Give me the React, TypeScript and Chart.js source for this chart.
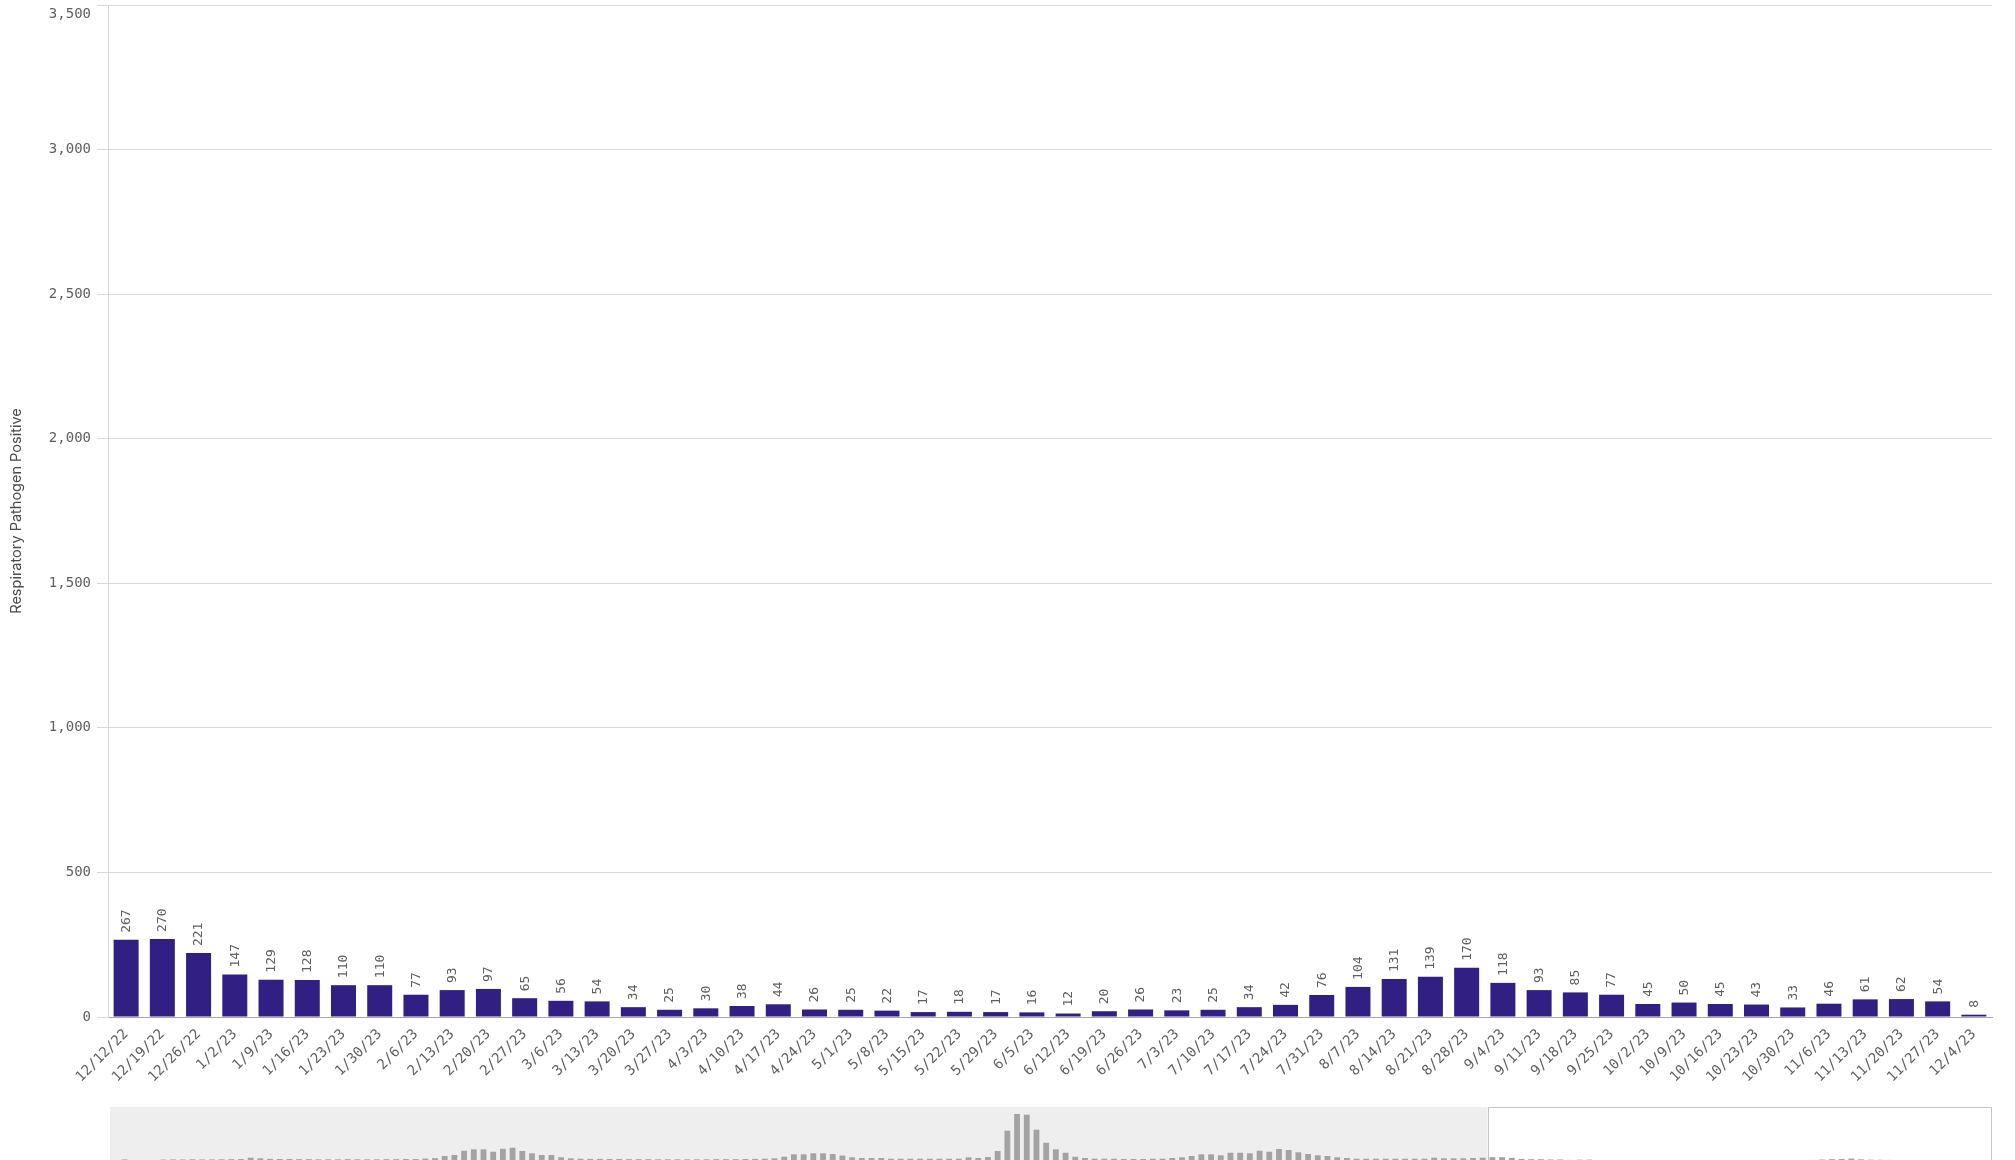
import React, { useEffect, useRef } from "react";
import { Chart, registerables } from "chart.js";

Chart.register(...registerables);

// ---- Data ----
const weekLabels = [
  "12/12/22", "12/19/22", "12/26/22", "1/2/23", "1/9/23", "1/16/23", "1/23/23", "1/30/23",
  "2/6/23", "2/13/23", "2/20/23", "2/27/23", "3/6/23", "3/13/23", "3/20/23", "3/27/23",
  "4/3/23", "4/10/23", "4/17/23", "4/24/23", "5/1/23", "5/8/23", "5/15/23", "5/22/23",
  "5/29/23", "6/5/23", "6/12/23", "6/19/23", "6/26/23", "7/3/23", "7/10/23", "7/17/23",
  "7/24/23", "7/31/23", "8/7/23", "8/14/23", "8/21/23", "8/28/23", "9/4/23", "9/11/23",
  "9/18/23", "9/25/23", "10/2/23", "10/9/23", "10/16/23", "10/23/23", "10/30/23", "11/6/23",
  "11/13/23", "11/20/23", "11/27/23", "12/4/23",
];

const weeklyPositive = [
  267, 270, 221, 147, 129, 128, 110, 110,
  77, 93, 97, 65, 56, 54, 34, 25,
  30, 38, 44, 26, 25, 22, 17, 18,
  17, 16, 12, 20, 26, 23, 25, 34,
  42, 76, 104, 131, 139, 170, 118, 93,
  85, 77, 45, 50, 45, 43, 33, 46,
  61, 62, 54, 8,
];

// Earlier weeks shown only in the overview strip
const historyValues = [
  30, 110, 40, 40, 50, 100, 110, 110, 120, 110, 110, 120, 130, 140, 230, 190,
  150, 140, 140, 130, 130, 120, 120, 120, 130, 120, 120, 120, 130, 130, 140, 140,
  170, 200, 350, 420, 720, 820, 820, 650, 860, 930, 700, 540, 420, 420, 260, 190,
  160, 150, 150, 140, 140, 130, 130, 130, 120, 120, 120, 120, 120, 120, 130, 130,
  130, 140, 150, 160, 190, 300, 470, 470, 540, 540, 490, 380, 260, 210, 210, 210,
  160, 160, 160, 160, 160, 160, 160, 160, 260, 210, 280, 700, 2130, 3300, 3250, 2200,
  1280, 820, 580, 300, 210, 160, 160, 160, 140, 140, 140, 160, 160, 210, 260, 350,
  470, 470, 400, 580, 580, 540, 720, 650, 840, 770, 610, 490, 400, 350, 260, 210,
  160, 160, 160, 160, 160, 160, 160, 160, 230, 190, 190, 190, 210, 230,
];

const yAxisTitle = "Respiratory Pathogen Positive";
const yMax = 3500;
const yStep = 500;

// ---- Layout ----
const W = 2015;
const MAIN_H = 1100;
const PLOT_LEFT = 108;
const PLOT_RIGHT = 1992;
const PLOT_TOP = 5;
const PLOT_BOTTOM = 1017;
const MINI_TOP = 1107;
const MINI_H = 54;
const MINI_LEFT = 110;

const MONO = '"DejaVu Sans Mono", "Liberation Mono", monospace';
const TEXT_GREY = "#5f5f5f";
const BAR_COLOR = "#311f83";

const fmt = (v: number) => Number(v).toLocaleString("en-US");

const valueLabelPlugin = {
  id: "valueLabels",
  afterDatasetsDraw(chart: any) {
    const ctx = chart.ctx;
    const meta = chart.getDatasetMeta(0);
    const data = chart.data.datasets[0].data;
    ctx.save();
    ctx.font = `13px ${MONO}`;
    ctx.fillStyle = TEXT_GREY;
    ctx.textAlign = "left";
    ctx.textBaseline = "middle";
    meta.data.forEach((bar: any, i: number) => {
      ctx.save();
      ctx.translate(bar.x + 0.5, bar.y - 7);
      ctx.rotate(-Math.PI / 2);
      ctx.fillText(String(data[i]), 0, 0);
      ctx.restore();
    });
    ctx.restore();
  },
  afterDraw(chart: any) {
    // top tick label is kept inside the canvas (shifted down), like the reference
    const ctx = chart.ctx;
    const y = chart.scales.y;
    ctx.save();
    ctx.font = `14px ${MONO}`;
    ctx.fillStyle = TEXT_GREY;
    ctx.textAlign = "right";
    ctx.textBaseline = "middle";
    ctx.fillText(fmt(yMax), y.right - 17, y.getPixelForValue(yMax) + 9);
    ctx.restore();
  },
};

const overviewPlugin = {
  id: "overviewBg",
  beforeDatasetsDraw(chart: any) {
    const { ctx, chartArea } = chart;
    const x = chart.scales.x;
    ctx.save();
    ctx.fillStyle = "#eeeeee";
    ctx.fillRect(chartArea.left, 0, chartArea.right - chartArea.left, chart.height);
    const n = historyValues.length;
    const half = (x.getPixelForValue(1) - x.getPixelForValue(0)) / 2;
    const bx = x.getPixelForValue(n) - half;
    ctx.fillStyle = "#ffffff";
    ctx.fillRect(bx, 0, chartArea.right - bx, chart.height);
    ctx.strokeStyle = "#c4c4c4";
    ctx.lineWidth = 1;
    ctx.strokeRect(Math.round(bx) + 0.5, 0.5, Math.round(chartArea.right - bx) - 1, chart.height + 10);
    ctx.restore();
  },
};

export default function App() {
  const mainRef = useRef<HTMLCanvasElement>(null);
  const miniRef = useRef<HTMLCanvasElement>(null);

  useEffect(() => {
    const main = new Chart(mainRef.current as HTMLCanvasElement, {
      type: "bar",
      data: {
        labels: weekLabels,
        datasets: [
          {
            data: weeklyPositive,
            backgroundColor: BAR_COLOR,
            barPercentage: 0.69,
            categoryPercentage: 1,
          },
        ],
      },
      options: {
        animation: false,
        responsive: false,
        maintainAspectRatio: false,
        devicePixelRatio: 1,
        layout: { padding: { top: PLOT_TOP, right: W - PLOT_RIGHT, left: 0, bottom: 0 } },
        plugins: { legend: { display: false }, tooltip: { enabled: false } },
        scales: {
          x: {
            grid: { display: false, drawTicks: false },
            border: { display: true, color: "#a8a8a8", width: 1 },
            ticks: {
              autoSkip: false,
              maxRotation: 45,
              minRotation: 45,
              padding: 9,
              color: TEXT_GREY,
              font: { family: MONO, size: 14 },
            },
            afterFit: (s: any) => {
              s.height = MAIN_H - PLOT_BOTTOM;
            },
          },
          y: {
            min: 0,
            max: yMax,
            ticks: {
              stepSize: yStep,
              padding: 6,
              color: TEXT_GREY,
              font: { family: MONO, size: 14 },
              callback: (v: any) => (v === yMax ? "" : fmt(v)),
            },
            grid: { color: "#d9d9d9", tickLength: 11, drawTicks: true },
            border: { display: true, color: "#d4d4d4" },
            title: {
              display: true,
              text: yAxisTitle,
              color: "#4a4a4a",
              font: { family: "Inter, 'Noto Sans', sans-serif", size: 14.5 },
              padding: { top: 8, bottom: 0 },
            },
            afterFit: (s: any) => {
              s.width = PLOT_LEFT;
              s.paddingTop = 0;
              s.paddingBottom = 0;
            },
          },
        },
      },
      plugins: [valueLabelPlugin],
    } as any);

    const allValues = [...historyValues, ...weeklyPositive];
    const mini = new Chart(miniRef.current as HTMLCanvasElement, {
      type: "bar",
      data: {
        labels: allValues.map((_, i) => String(i)),
        datasets: [
          {
            data: allValues,
            backgroundColor: "#a3a3a3",
            barPercentage: 0.6,
            categoryPercentage: 1,
          },
        ],
      },
      options: {
        animation: false,
        responsive: false,
        maintainAspectRatio: false,
        devicePixelRatio: 1,
        layout: { padding: { top: 0, right: W - PLOT_RIGHT, left: MINI_LEFT, bottom: 0 } },
        plugins: { legend: { display: false }, tooltip: { enabled: false } },
        scales: {
          x: { display: false },
          y: { display: false, min: 0, max: 3790 },
        },
      },
      plugins: [overviewPlugin],
    } as any);

    return () => {
      main.destroy();
      mini.destroy();
    };
  }, []);

  return (
    <div
      style={{
        position: "fixed",
        left: 0,
        top: 0,
        width: W,
        height: 1160,
        overflow: "hidden",
        background: "#ffffff",
      }}
    >
      <canvas
        ref={mainRef}
        width={W}
        height={MAIN_H}
        style={{ position: "absolute", left: 0, top: 0, width: W, height: MAIN_H }}
      />
      <canvas
        ref={miniRef}
        width={W}
        height={MINI_H}
        style={{ position: "absolute", left: 0, top: MINI_TOP, width: W, height: MINI_H }}
      />
    </div>
  );
}
